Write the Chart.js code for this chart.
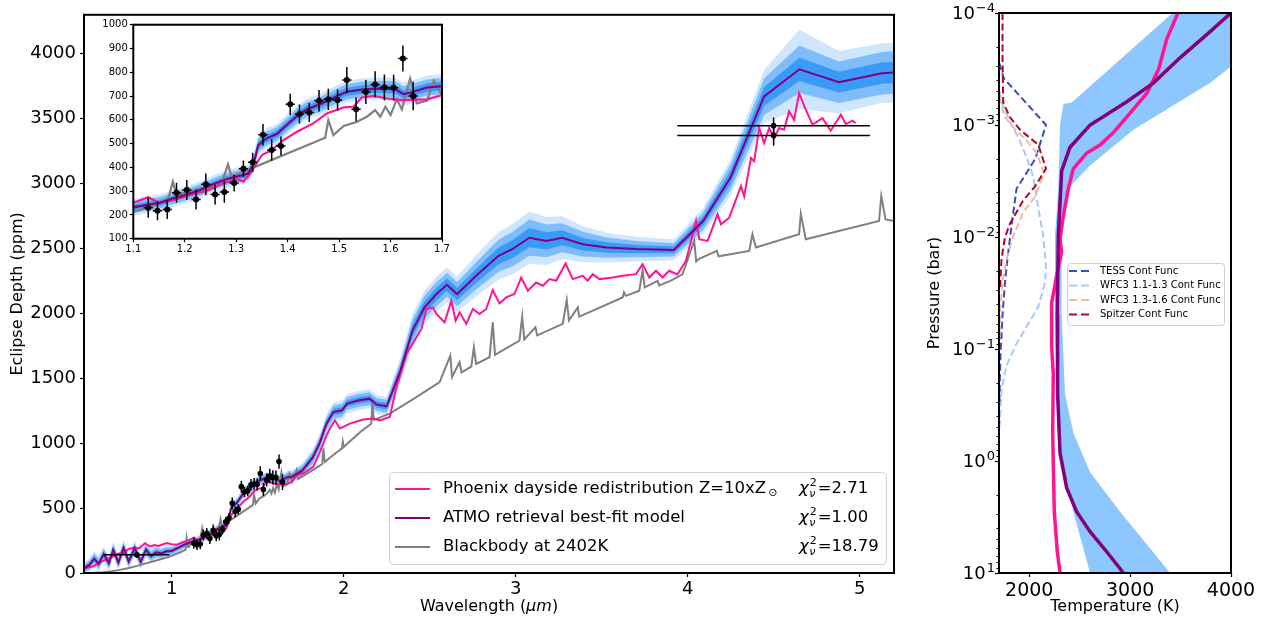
<!DOCTYPE html>
<html><head><meta charset="utf-8">
<script src="https://cdn.jsdelivr.net/npm/chart.js@4.4.0/dist/chart.umd.min.js"></script>
<style>
html,body{margin:0;padding:0;background:#fff;width:1262px;height:618px;overflow:hidden;position:relative;}
canvas{position:absolute;}
</style></head><body>
<canvas id="main" width="910" height="618" style="left:0;top:0;width:910px;height:618px"></canvas>
<canvas id="inset" width="365" height="246" style="left:86px;top:14px;width:365px;height:246px"></canvas>
<canvas id="pt" width="342" height="618" style="left:920px;top:0;width:342px;height:618px"></canvas>
<script>
// ---------------- DATA ----------------
const mainXTicks = [1, 2, 3, 4, 5];
const mainYTicks = [0, 500, 1000, 1500, 2000, 2500, 3000, 3500, 4000];
const insetXTicks = [1.1, 1.2, 1.3, 1.4, 1.5, 1.6, 1.7];
const insetYTicks = [100, 200, 300, 400, 500, 600, 700, 800, 900, 1000];
const ptXTicks = [2000, 3000, 4000];
const ptYTicks = [1e-4, 1e-3, 1e-2, 1e-1, 1, 10];
const ptYExp = ['\u22124', '\u22123', '\u22122', '\u22121', '0', '1'];

// ATMO retrieval best-fit model (wavelength um, eclipse depth ppm)
const atmoWave = [0.49,0.52,0.55,0.575,0.605,0.635,0.66,0.69,0.72,0.75,0.785,0.82,0.85,0.88,0.91,0.94,0.97,1.00,1.04,1.08,
  1.10,1.126,1.152,1.178,1.204,1.23,1.256,1.282,1.308,1.324,1.334,1.343,1.359,1.379,1.398,1.418,1.437,1.463,1.489,1.515,1.548,1.58,1.609,1.625,1.638,1.671,1.70,
  1.76,1.82,1.86,1.90,1.94,1.99,2.02,2.09,2.15,2.19,2.25,2.33,2.40,2.47,2.54,2.60,2.66,2.77,2.90,2.98,3.08,3.18,3.27,3.39,3.53,3.70,3.92,4.09,4.25,4.445,4.65,4.88,5.13,5.2];
const atmoDepth = [35,60,110,70,145,75,180,80,195,88,192,85,180,130,160,150,168,170,195,222,
  232,242,251,270,286,305,330,351,365,375,417,494,522,540,578,616,644,665,693,718,728,731,729,708,714,736,742,
  790,890,1000,1150,1240,1253,1305,1330,1343,1299,1284,1560,1867,2046,2149,2220,2149,2289,2443,2494,2583,2558,2583,2533,2507,2495,2489,2711,3049,3671,3880,3781,3850,3855];
// half-widths of the 1, 2 and 3 sigma envelopes
const atmoSig1 = [15,18,20,20,20,20,20,20,20,20,20,20,20,18,18,16,15,14,13,12,
  12,12,12,12,12,12,12,13,13,13,14,15,15,15,15,16,16,16,16,17,17,17,17,17,17,18,18,
  20,22,23,24,25,25,25,25,25,25,25,35,45,47,48,48,48,55,65,70,74,66,58,48,40,32,26,35,51,72,90,80,82,82];
const atmoSig2 = [30,36,40,40,40,40,40,40,40,40,40,40,40,36,36,32,30,28,26,24,
  24,24,24,24,24,24,24,25,25,25,27,29,29,29,29,31,31,31,31,33,33,33,33,33,33,34,34,
  40,44,46,48,50,50,50,50,50,50,50,65,85,90,92,92,92,105,125,132,140,126,112,95,78,62,51,68,97,140,183,160,164,164];
const atmoSig3 = [45,54,60,60,60,60,60,60,60,60,60,60,60,54,54,48,45,42,39,36,
  35,35,35,36,36,36,37,37,38,38,40,42,42,42,43,44,44,45,45,46,47,47,48,48,49,50,50,
  58,64,68,70,74,74,74,74,74,74,74,100,128,132,135,136,136,160,184,195,202,185,166,140,115,95,80,102,140,205,305,240,230,230];

// Phoenix dayside redistribution model
const phxWave = [0.497,0.545,0.58,0.62,0.661,0.69,0.719,0.75,0.78,0.81,0.845,0.874,0.9,0.922,0.95,0.971,1.0,1.029,1.06,1.1,
  1.129,1.149,1.178,1.21,1.243,1.275,1.301,1.314,1.327,1.35,1.369,1.392,1.418,1.45,1.476,1.509,1.528,1.544,1.567,1.593,
  1.619,1.671,1.7,1.726,1.77,1.823,1.862,1.90,1.92,1.949,1.978,2.036,2.113,2.171,2.21,2.268,2.307,2.365,2.423,2.452,
  2.481,2.519,2.539,2.587,2.626,2.651,2.674,2.713,2.751,2.79,2.829,2.867,2.906,2.945,2.993,3.032,3.071,3.119,3.158,3.197,
  3.236,3.29,3.332,3.39,3.419,3.448,3.487,3.564,3.622,3.7,3.738,3.777,3.816,3.854,3.893,3.94,3.99,4.049,4.068,4.116,
  4.174,4.194,4.242,4.31,4.329,4.368,4.387,4.416,4.445,4.474,4.503,4.532,4.561,4.59,4.619,4.648,4.687,4.726,4.784,4.832,
  4.891,4.92,4.958,4.977];
const phxDepth = [38,51,80,105,128,150,153,185,195,190,230,204,215,209,222,230,222,217,235,251,
  274,251,263,284,302,333,350,340,375,452,473,515,550,585,627,652,655,694,700,690,
  683,686,704,754,770,818,933,1060,1113,1176,1113,1151,1182,1190,1176,1202,1432,1688,1816,1880,
  2034,2046,1995,1931,2097,1944,2008,1919,2034,1995,2034,2180,2077,2123,2149,2276,2174,2238,2213,2264,
  2251,2384,2264,2289,2251,2302,2264,2276,2289,2302,2379,2276,2328,2276,2328,2300,2404,2711,2571,2558,
  2763,2686,2737,2980,2903,3197,3172,3428,3312,3428,3351,3428,3415,3556,3492,3696,3569,3454,3504,3407,
  3530,3458,3484,3466];

// Blackbody at 2402K
const bbWave = [0.49,0.55,0.6,0.65,0.7,0.75,0.8,0.85,0.9,0.95,1.0,1.05,1.08,1.087,1.095,1.1,1.145,1.168,1.177,1.184,
  1.256,1.275,1.284,1.291,1.473,1.479,1.489,1.509,1.535,1.554,1.57,1.58,1.59,1.6,1.612,1.622,1.638,1.651,1.671,1.684,
  1.7,1.726,1.735,1.78,1.83,1.875,1.882,1.89,1.95,1.99,1.995,2.0,2.05,2.1,2.16,2.167,2.175,2.268,2.423,2.558,
  2.62,2.63,2.674,2.685,2.742,2.757,2.77,2.848,2.867,2.88,3.022,3.038,3.05,3.115,3.125,3.274,3.297,3.31,3.361,3.37,
  3.622,3.63,3.64,3.719,3.738,3.75,3.825,3.835,3.9,3.97,4.038,4.05,4.067,4.17,4.18,4.358,4.377,4.397,4.648,4.658,
  4.687,5.113,5.126,5.151,5.2];
const bbDepth = [0,2,6,14,24,38,55,74,93,112,132,160,178,270,200,214,242,270,340,284,
  319,354,413,361,525,599,536,574,592,613,641,613,655,620,686,644,774,669,681,765,
  704,793,725,760,800,840,960,855,920,960,1010,970,1030,1090,1150,1317,1180,1228,1355,1470,
  1675,1510,1624,1545,1590,1739,1610,1662,1931,1680,1790,1975,1800,1893,1830,1919,2103,1945,2046,1975,
  2123,2162,2135,2174,2333,2200,2251,2215,2250,2300,2558,2400,2420,2481,2440,2481,2609,2507,2609,2767,
  2571,2711,2903,2724,2711];

// Observations (TESS, WFC3, Spitzer)
const obsWave = [0.797,
  1.129,1.147,1.166,1.184,1.204,1.222,1.241,1.259,1.277,1.296,1.314,1.332,1.352,1.369,1.387,1.405,1.423,1.442,1.461,1.479,
  1.497,1.515,1.533,1.552,1.570,1.588,1.606,1.624,1.644,
  4.5,4.5];
const obsDepth = [140,
  230,218,223,293,305,265,329,286,296,334,394,421,537,473,490,665,624,631,680,686,
  683,767,644,717,749,736,735,858,700,
  3446,3371];
const obsWaveErr = [0.19,
  0.009,0.009,0.009,0.009,0.009,0.009,0.009,0.009,0.009,0.009,0.009,0.009,0.009,0.009,0.009,0.009,0.009,0.009,0.009,0.009,
  0.009,0.009,0.009,0.009,0.009,0.009,0.009,0.009,0.009,
  0.56,0.56];
const obsDepthErr = [20,
  42,40,40,42,42,42,45,42,45,35,35,40,45,45,40,45,40,40,45,45,
  45,55,50,50,55,55,55,55,60,
  63,79];

// P-T profiles (temperature K, pressure bar)
const ptAtmoT = [4000,3762,3497,3232,2967,2603,2404,2321,2288,2278,2281,2305,2371,2470,2603,2768,2934];
const ptAtmoP = [1e-4,1.55e-4,2.5e-4,4.2e-4,6.2e-4,1e-3,1.58e-3,2.57e-3,9.8e-3,4.9e-2,2.5e-1,8.5e-1,1.74,2.84,4.27,6.46,10];
const ptPhxT = [3474,3364,3281,3166,3033,2834,2702,2570,2437,2387,2338,2305,2321,2272,2222,2222,2238,2232,2248,2278,2305];
const ptPhxP = [1e-4,1.7e-4,3.2e-4,5.2e-4,7.2e-4,1.17e-3,1.51e-3,1.78e-3,2.45e-3,3.7e-3,6.5e-3,1.05e-2,1.35e-2,2.2e-2,3.9e-2,9.5e-2,1.66e-1,5.6e-1,2.84,6.46,10];
// retrieved P-T envelope: outline, down the cool edge then up the hot edge
const ptBandT = [3420,2421,2338,2305,2288,2255,2255,2272,2321,2437,2603, 3397,2901,2603,2437,2354,2321,2321,2371,2603,3033,3795,4000,4000];
const ptBandP = [1e-4,6.3e-4,6.5e-4,1e-3,3.7e-3,9.8e-3,4.9e-2,2.5e-1,1,2.84,10, 10,2.84,1.26,5.6e-1,2.5e-1,4.9e-2,9.8e-3,3.8e-3,2.3e-3,1.1e-3,4.2e-4,3.0e-4,1e-4];
// contribution functions
const cfTessT = [1703,1745,2166,2060,1960,1874,1825,1790,1760,1735,1715,1703];
const cfTessP = [2.8e-4,3.8e-4,1.0e-3,2.0e-3,2.8e-3,3.7e-3,7.9e-3,1.4e-2,2.5e-2,5.0e-2,1.1e-1,3.2e-1];
const cfW1T = [1703,1742,1808,1907,1974,2040,2089,2139,2166,2156,2089,1974,1858,1775,1725,1705];
const cfW1P = [5.0e-4,6.8e-4,9.3e-4,1.38e-3,1.95e-3,2.9e-3,5.5e-3,9.8e-3,1.86e-2,2.57e-2,4.2e-2,6.3e-2,9.5e-2,1.41e-1,2.3e-1,5.0e-1];
const cfW2T = [1703,1758,1841,1974,2073,2146,2056,1940,1841,1775,1735,1715,1705];
const cfW2P = [5.6e-4,8.5e-4,1.05e-3,1.38e-3,1.78e-3,2.7e-3,4.4e-3,6.0e-3,9.8e-3,1.58e-2,2.57e-2,4.2e-2,7.9e-2];
const cfSpT = [1735,1735,1742,1808,1907,2089,2166,2056,1940,1874,1808,1758,1725,1709];
const cfSpP = [1e-4,2.5e-4,6.3e-4,8.5e-4,1.1e-3,1.5e-3,2.45e-3,3.55e-3,4.7e-3,6.0e-3,7.6e-3,1.02e-2,1.58e-2,3.0e-2];

// ---------------- STYLE ----------------
Chart.defaults.font.family = "'DejaVu Sans', 'Liberation Sans', sans-serif";
Chart.defaults.color = '#000';
Chart.defaults.animation = false;
const COL = {pink:'#ff1493', purple:'#800080', gray:'#808080',
  s1:'rgb(58,154,248)', s2:'rgb(126,189,250)', s3:'rgb(207,230,253)', ptBand:'rgb(142,199,253)',
  tess:'#3b4cc0', w1:'#aac7fd', w2:'#f4b89b', sp:'#b40426'};
const FONT = "'DejaVu Sans', 'Liberation Sans', sans-serif";

const pts = (xs, ys) => xs.map((x, i) => ({x: x, y: ys[i]}));
const plus = (s) => pts(atmoWave, atmoDepth.map((v, i) => v + s[i]));
const minus = (s) => pts(atmoWave, atmoDepth.map((v, i) => v - s[i]));

function spectrumDatasets(lw, pr) {
  const band = (data, fillTo, color, order) => ({data, fill: fillTo, backgroundColor: color, borderWidth: 0, pointRadius: 0, order});
  return [
    band(plus(atmoSig3), 1, COL.s3, 6), band(minus(atmoSig3), false, COL.s3, 6),
    band(plus(atmoSig2), 3, COL.s2, 5), band(minus(atmoSig2), false, COL.s2, 5),
    band(plus(atmoSig1), 5, COL.s1, 4), band(minus(atmoSig1), false, COL.s1, 4),
    {data: pts(bbWave, bbDepth), borderColor: COL.gray, borderWidth: lw, pointRadius: 0, fill: false, order: 3},
    {data: pts(phxWave, phxDepth), borderColor: COL.pink, borderWidth: lw, pointRadius: 0, fill: false, order: 2},
    {data: pts(atmoWave, atmoDepth), borderColor: COL.purple, borderWidth: lw, pointRadius: 0, fill: false, order: 1},
    {data: pts(obsWave, obsDepth), showLine: false, pointRadius: pr, pointBackgroundColor: '#000', pointBorderWidth: 0, borderColor: '#000', order: 0}
  ];
}

function axis(fs, tl, pad, fmt) {
  return {
    grid: {display: true, drawOnChartArea: false, drawTicks: true, tickLength: tl, tickWidth: 1.2, tickColor: '#000'},
    border: {display: false},
    ticks: {font: {size: fs}, color: '#000', padding: pad, maxRotation: 0, autoSkip: false,
      callback: fmt || ((v) => String(v))}
  };
}
const setTicks = (arr) => (s) => { s.ticks = arr.map(v => ({value: v})); };

function frameRect(ctx, a, lw) {
  ctx.save(); ctx.strokeStyle = '#000'; ctx.lineWidth = lw;
  ctx.strokeRect(a.left, a.top, a.right - a.left, a.bottom - a.top); ctx.restore();
}
function drawErrBars(chart, lw) {
  const {ctx, chartArea: a, scales: {x, y}} = chart;
  ctx.save(); ctx.beginPath(); ctx.rect(a.left, a.top, a.right - a.left, a.bottom - a.top); ctx.clip();
  ctx.strokeStyle = '#000'; ctx.lineWidth = lw;
  obsWave.forEach((w, i) => {
    const px = x.getPixelForValue(w), py = y.getPixelForValue(obsDepth[i]);
    ctx.beginPath();
    ctx.moveTo(x.getPixelForValue(w - obsWaveErr[i]), py); ctx.lineTo(x.getPixelForValue(w + obsWaveErr[i]), py);
    ctx.moveTo(px, y.getPixelForValue(obsDepth[i] - obsDepthErr[i])); ctx.lineTo(px, y.getPixelForValue(obsDepth[i] + obsDepthErr[i]));
    ctx.stroke();
  });
  ctx.restore();
}
function roundBox(ctx, x, y, w, h, r) {
  ctx.beginPath();
  ctx.moveTo(x + r, y); ctx.lineTo(x + w - r, y); ctx.arcTo(x + w, y, x + w, y + r, r);
  ctx.lineTo(x + w, y + h - r); ctx.arcTo(x + w, y + h, x + w - r, y + h, r);
  ctx.lineTo(x + r, y + h); ctx.arcTo(x, y + h, x, y + h - r, r);
  ctx.lineTo(x, y + r); ctx.arcTo(x, y, x + r, y, r); ctx.closePath();
}

// ---------------- MAIN SPECTRUM ----------------
const legendItems = [
  {color: COL.pink, text: 'Phoenix dayside redistribution Z=10xZ', sun: true, chi: '2.71'},
  {color: COL.purple, text: 'ATMO retrieval best-fit model', sun: false, chi: '1.00'},
  {color: COL.gray, text: 'Blackbody at 2402K', sun: false, chi: '18.79'}
];
const mainDecor = {
  id: 'mainDecor',
  afterDatasetsDraw(chart) { drawErrBars(chart, 1.5); },
  afterDraw(chart) {
    const ctx = chart.ctx;
    frameRect(ctx, chart.chartArea, 2);
    // x title with italic unit
    ctx.save();
    ctx.fillStyle = '#000'; ctx.textBaseline = 'middle';
    const p1 = 'Wavelength (', p2 = '\u03bcm', p3 = ')';
    ctx.font = '16px ' + FONT; const w1 = ctx.measureText(p1).width, w3 = ctx.measureText(p3).width;
    ctx.font = 'italic 16px ' + FONT; const w2 = ctx.measureText(p2).width;
    let x0 = (chart.chartArea.left + chart.chartArea.right) / 2 - (w1 + w2 + w3) / 2;
    const ty = 607;
    ctx.textAlign = 'left';
    ctx.font = '16px ' + FONT; ctx.fillText(p1, x0, ty);
    ctx.font = 'italic 16px ' + FONT; ctx.fillText(p2, x0 + w1, ty);
    ctx.font = '16px ' + FONT; ctx.fillText(p3, x0 + w1 + w2, ty);
    // legend
    roundBox(ctx, 389.5, 472.5, 497, 92, 4);
    ctx.fillStyle = 'rgba(255,255,255,0.8)'; ctx.fill();
    ctx.strokeStyle = '#d0d0d0'; ctx.lineWidth = 1; ctx.stroke();
    legendItems.forEach((it, i) => {
      const y = 489 + i * 29;
      ctx.strokeStyle = it.color; ctx.lineWidth = 2;
      ctx.beginPath(); ctx.moveTo(395, y); ctx.lineTo(430, y); ctx.stroke();
      ctx.fillStyle = '#000'; ctx.textAlign = 'left'; ctx.textBaseline = 'middle';
      ctx.font = '16.5px ' + FONT; ctx.fillText(it.text, 443, y);
      if (it.sun) {
        const tw = ctx.measureText(it.text).width;
        ctx.font = '11px ' + FONT; ctx.fillText('\u2299', 443 + tw + 2, y + 4);
      }
      const cx = 799;
      ctx.font = 'italic 16.5px ' + FONT; ctx.fillText('\u03c7', cx, y);
      const cw = ctx.measureText('\u03c7').width;
      ctx.font = '11px ' + FONT; ctx.fillText('2', cx + cw + 1, y - 6);
      const sw = ctx.measureText('2').width;
      ctx.font = 'italic 11px ' + FONT; ctx.fillText('\u03bd', cx + cw + 0.5, y + 5);
      const nw = ctx.measureText('\u03bd').width;
      ctx.font = '16.5px ' + FONT; ctx.fillText('=' + it.chi, cx + cw + Math.max(sw, nw) + 2, y);
    });
    ctx.restore();
  }
};

new Chart(document.getElementById('main'), {
  type: 'line',
  data: {datasets: spectrumDatasets(2, 2.8)},
  options: {
    responsive: false, devicePixelRatio: 1, animation: false,
    layout: {padding: {left: 0, top: 14, right: 16, bottom: 0}},
    plugins: {legend: {display: false}, tooltip: {enabled: false}},
    elements: {line: {tension: 0}},
    scales: {
      x: Object.assign(axis(18, 4, 2), {type: 'linear', min: 0.49, max: 5.2,
        afterBuildTicks: setTicks(mainXTicks), afterFit: (s) => { s.height = 45; }}),
      y: Object.assign(axis(18, 4, 4), {type: 'linear', min: 0, max: 4300,
        afterBuildTicks: setTicks(mainYTicks), afterFit: (s) => { s.width = 84; },
        title: {display: true, text: 'Eclipse Depth (ppm)', font: {size: 16}, padding: {top: 8, bottom: 0}}})
    }
  },
  plugins: [mainDecor]
});

// ---------------- INSET ----------------
const insetDecor = {
  id: 'insetDecor',
  afterDatasetsDraw(chart) { drawErrBars(chart, 1.5); },
  afterDraw(chart) { frameRect(chart.ctx, chart.chartArea, 2); }
};
new Chart(document.getElementById('inset'), {
  type: 'line',
  data: {datasets: spectrumDatasets(2.2, 3)},
  options: {
    responsive: false, devicePixelRatio: 1, animation: false,
    layout: {padding: {left: 0, top: 10.7, right: 9, bottom: 0}},
    plugins: {legend: {display: false}, tooltip: {enabled: false}},
    elements: {line: {tension: 0}},
    scales: {
      x: Object.assign(axis(10, 3.5, 1, (v) => Number(v).toFixed(1)), {type: 'linear', min: 1.1, max: 1.7,
        afterBuildTicks: setTicks(insetXTicks), afterFit: (s) => { s.height = 21.3; }}),
      y: Object.assign(axis(10, 3.5, 2), {type: 'linear', min: 100, max: 1000,
        afterBuildTicks: setTicks(insetYTicks), afterFit: (s) => { s.width = 47.3; }})
    }
  },
  plugins: [insetDecor]
});

// ---------------- P-T PROFILE ----------------
const cfLegend = [
  {color: COL.tess, text: 'TESS Cont Func'},
  {color: COL.w1, text: 'WFC3 1.1-1.3 Cont Func'},
  {color: COL.w2, text: 'WFC3 1.3-1.6 Cont Func'},
  {color: COL.sp, text: 'Spitzer Cont Func'}
];
const ptDecor = {
  id: 'ptDecor',
  afterDraw(chart) {
    const {ctx, chartArea: a, scales: {y}} = chart;
    frameRect(ctx, a, 2);
    ctx.save();
    // minor log ticks
    ctx.strokeStyle = '#000'; ctx.lineWidth = 1;
    for (let e = -4; e < 1; e++) {
      for (let m = 2; m <= 9; m++) {
        const py = Math.round(y.getPixelForValue(m * Math.pow(10, e))) + 0.5;
        ctx.beginPath(); ctx.moveTo(a.left - 2.5, py); ctx.lineTo(a.left, py); ctx.stroke();
      }
    }
    // decade labels 10^n
    ctx.fillStyle = '#000'; ctx.textAlign = 'right'; ctx.textBaseline = 'middle';
    ptYTicks.forEach((v, i) => {
      const py = y.getPixelForValue(v);
      const xr = a.left - 4;
      ctx.font = '13px ' + FONT; const ew = ctx.measureText(ptYExp[i]).width;
      ctx.fillText(ptYExp[i], xr, py - 4);
      ctx.font = '18px ' + FONT; ctx.fillText('10', xr - ew - 1, py + 1);
    });
    // legend
    roundBox(ctx, 147.5, 263.5, 157, 62, 3);
    ctx.fillStyle = 'rgba(255,255,255,0.8)'; ctx.fill();
    ctx.strokeStyle = '#d0d0d0'; ctx.lineWidth = 1; ctx.stroke();
    ctx.textAlign = 'left';
    cfLegend.forEach((it, i) => {
      const ly = 271 + i * 14.5;
      ctx.strokeStyle = it.color; ctx.lineWidth = 2; ctx.setLineDash([8, 4]);
      ctx.beginPath(); ctx.moveTo(149, ly); ctx.lineTo(170, ly); ctx.stroke();
      ctx.setLineDash([]);
      ctx.fillStyle = '#000'; ctx.font = '10px ' + FONT; ctx.fillText(it.text, 180, ly);
    });
    ctx.restore();
  }
};
const dashed = (T, P, color) => ({data: pts(T, P), borderColor: color, borderWidth: 2, borderDash: [7, 3.5], pointRadius: 0, fill: false});
new Chart(document.getElementById('pt'), {
  type: 'line',
  data: {datasets: [
    {data: pts(ptBandT, ptBandP), fill: 'shape', backgroundColor: COL.ptBand, borderWidth: 0, pointRadius: 0, order: 10},
    Object.assign(dashed(cfTessT, cfTessP, COL.tess), {order: 5}),
    Object.assign(dashed(cfW1T, cfW1P, COL.w1), {order: 6}),
    Object.assign(dashed(cfW2T, cfW2P, COL.w2), {order: 4}),
    Object.assign(dashed(cfSpT, cfSpP, COL.sp), {order: 3}),
    {data: pts(ptPhxT, ptPhxP), borderColor: COL.pink, borderWidth: 3.5, pointRadius: 0, fill: false, order: 2},
    {data: pts(ptAtmoT, ptAtmoP), borderColor: COL.purple, borderWidth: 3.5, pointRadius: 0, fill: false, order: 1}
  ]},
  options: {
    responsive: false, devicePixelRatio: 1, animation: false,
    layout: {padding: {left: 0, top: 13, right: 31, bottom: 0}},
    plugins: {legend: {display: false}, tooltip: {enabled: false}},
    elements: {line: {tension: 0}},
    scales: {
      x: Object.assign(axis(19, 4, 3), {type: 'linear', min: 1700, max: 4000,
        afterBuildTicks: setTicks(ptXTicks), afterFit: (s) => { s.height = 45; },
        title: {display: true, text: 'Temperature (K)', font: {size: 16}, padding: {top: 0, bottom: 1.4}}}),
      y: Object.assign(axis(1, 4, 0, () => ''), {type: 'logarithmic', reverse: true, min: 1e-4, max: 10,
        afterBuildTicks: setTicks(ptYTicks), afterFit: (s) => { s.width = 79; },
        title: {display: true, text: 'Pressure (bar)', font: {size: 16}, padding: {top: 5.4, bottom: 0}}})
    }
  },
  plugins: [ptDecor]
});
</script>
</body></html>
